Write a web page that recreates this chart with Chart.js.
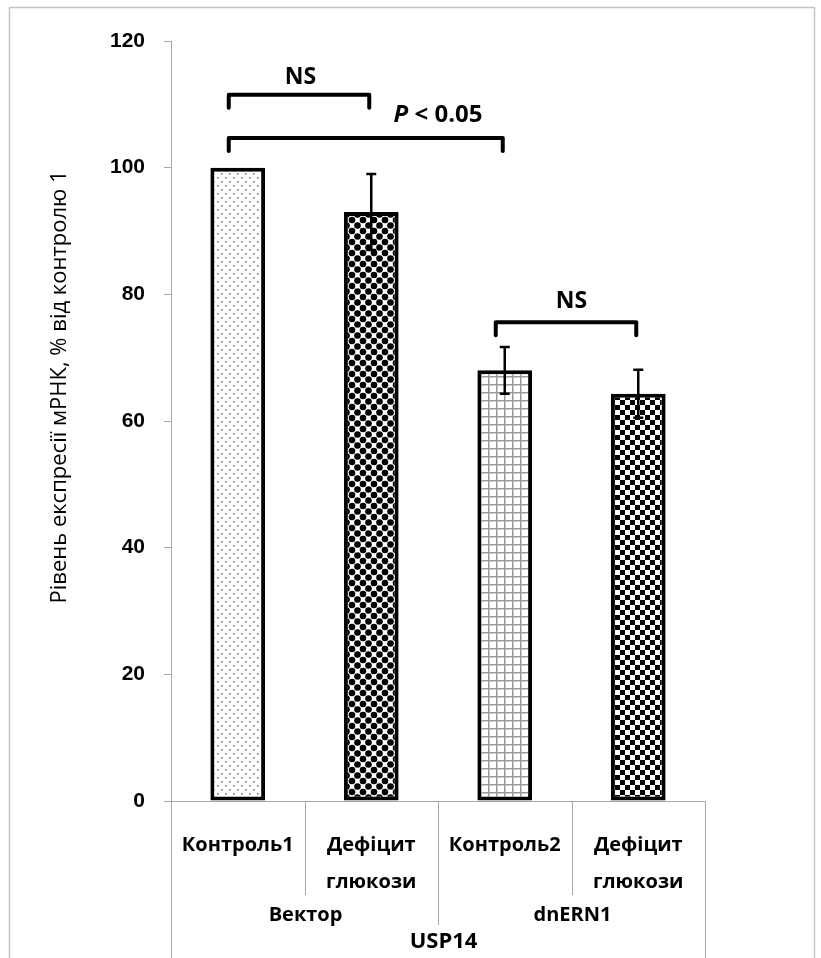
<!DOCTYPE html>
<html>
<head>
<meta charset="utf-8">
<script src="https://cdn.jsdelivr.net/npm/chart.js@4.4.1/dist/chart.umd.min.js"></script>
<style>
  html, body { margin: 0; padding: 0; background: #fff; }
  #wrap { width: 821px; height: 958px; position: relative; }
</style>
</head>
<body>
<div id="wrap"><canvas id="c" width="821" height="958"></canvas></div>
<script>
// ---- data ----
const categories = [['Контроль1'], ['Дефіцит', 'глюкози'], ['Контроль2'], ['Дефіцит', 'глюкози']];
const groups = ['Вектор', 'dnERN1'];
const geneLabel = 'USP14';
const expression = [100, 93, 68, 64.3];
const errorBars = [0, 6, 3.7, 3.8];
const yTicks = [0, 20, 40, 60, 80, 100, 120];
const yTitle = 'Рівень експресії мРНК, % від контролю 1';
// significance brackets: bars joined, bracket level (axis units), label, label position
const bracketFrom = [0, 0, 2];
const bracketTo = [1, 2, 3];
const bracketLevel = [111.5, 104.7, 75.6];
const bracketText = ['NS', 'P < 0.05', 'NS'];
const bracketTextAt = [0.47, 1.5, 2.5];
const bracketTextLevel = [114.3, 108.3, 78.8];

// ---- fill patterns ----
function makePattern(size, paint) {
  const c = document.createElement('canvas');
  c.width = size; c.height = size;
  const g = c.getContext('2d');
  g.fillStyle = '#fff';
  g.fillRect(0, 0, size, size);
  paint(g, size);
  return document.getElementById('c').getContext('2d').createPattern(c, 'repeat');
}
const sparseDots = makePattern(8, (g) => {
  g.fillStyle = '#7a7a7a';
  g.fillRect(1, 1, 1.6, 1.6);
  g.fillRect(5, 5, 1.6, 1.6);
});
const bigDots = makePattern(11, (g, s) => {
  g.fillStyle = '#000';
  [[0, 0], [s, 0], [0, s], [s, s], [s / 2, s / 2]].forEach(([x, y]) => {
    g.beginPath(); g.arc(x, y, 3.3, 0, Math.PI * 2); g.fill();
  });
});
const smallGrid = makePattern(8, (g) => {
  g.fillStyle = '#9a9a9a';
  g.fillRect(0, 0, 8, 1.5);
  g.fillRect(0, 0, 1.5, 8);
});
const checker = makePattern(10, (g) => {
  g.fillStyle = '#000';
  g.fillRect(0, 0, 5, 5);
  g.fillRect(5, 5, 5, 5);
});
const barFills = [sparseDots, bigDots, smallGrid, checker];

const FONT = '"Open Sans", "DejaVu Sans", sans-serif';

// frame, y title, error bars, brackets and the category table
const decorations = {
  id: 'decorations',
  beforeDraw(chart) {
    const ctx = chart.ctx;
    ctx.save();
    ctx.strokeStyle = '#c4c4c4';
    ctx.lineWidth = 1.5;
    ctx.strokeRect(9.5, 7.5, 805, 960);
    // rotated y-axis title
    ctx.translate(60, 387);
    ctx.rotate(-Math.PI / 2);
    ctx.fillStyle = '#000';
    ctx.font = '22px ' + FONT;
    ctx.textAlign = 'center';
    ctx.textBaseline = 'middle';
    ctx.fillText(yTitle, 0, 0);
    ctx.restore();
  },
  afterDatasetsDraw(chart) {
    const ctx = chart.ctx;
    const x = chart.scales.x, y = chart.scales.y;
    const meta = chart.getDatasetMeta(0);
    ctx.save();
    ctx.strokeStyle = '#000';
    ctx.lineWidth = 2.5;
    meta.data.forEach((bar, i) => {
      const e = errorBars[i];
      if (!e) return;
      const cx = bar.x;
      const top = y.getPixelForValue(expression[i] + e);
      const bot = y.getPixelForValue(expression[i] - e);
      ctx.beginPath();
      ctx.moveTo(cx, top); ctx.lineTo(cx, bot);
      ctx.moveTo(cx - 5, top); ctx.lineTo(cx + 5, top);
      ctx.moveTo(cx - 5, bot); ctx.lineTo(cx + 5, bot);
      ctx.stroke();
    });

    // brackets
    ctx.lineWidth = 4;
    ctx.lineJoin = 'round';
    ctx.lineCap = 'round';
    bracketFrom.forEach((f, k) => {
      const x1 = meta.data[f].x - 9;
      const x2 = meta.data[bracketTo[k]].x - 2;
      const yl = y.getPixelForValue(bracketLevel[k]);
      ctx.beginPath();
      ctx.moveTo(x1, yl + 13);
      ctx.lineTo(x1, yl);
      ctx.lineTo(x2, yl);
      ctx.lineTo(x2, yl + 13);
      ctx.stroke();
      const step = (x.right - x.left) / categories.length;
      const tx = x.left + step * (bracketTextAt[k] + 0.5);
      const ty = y.getPixelForValue(bracketTextLevel[k]);
      ctx.fillStyle = '#000';
      ctx.textBaseline = 'middle';
      ctx.textAlign = 'center';
      const t = bracketText[k];
      if (t.startsWith('P')) {
        const rest = t.slice(1);
        ctx.font = 'italic bold 24px ' + FONT;
        const wp = ctx.measureText('P').width;
        ctx.font = 'bold 24px ' + FONT;
        const wr = ctx.measureText(rest).width;
        const sx = tx - (wp + wr) / 2;
        ctx.textAlign = 'left';
        ctx.font = 'italic bold 24px ' + FONT;
        ctx.fillText('P', sx, ty);
        ctx.font = 'bold 24px ' + FONT;
        ctx.fillText(rest, sx + wp, ty);
      } else {
        ctx.font = 'bold 23px ' + FONT;
        ctx.fillText(t, tx, ty);
      }
    });
    ctx.restore();
  },
  afterDraw(chart) {
    const ctx = chart.ctx;
    const x = chart.scales.x;
    const base = chart.chartArea.bottom;
    const n = categories.length;
    const step = (x.right - x.left) / n;
    const edge = (i) => Math.round(x.left + step * i) + 0.5;
    ctx.save();
    ctx.strokeStyle = '#a8a8a8';
    ctx.lineWidth = 1;
    ctx.beginPath();
    ctx.moveTo(edge(0), base); ctx.lineTo(edge(0), 958);
    ctx.moveTo(edge(n), base); ctx.lineTo(edge(n), 958);
    ctx.moveTo(edge(1), base); ctx.lineTo(edge(1), base + 94);
    ctx.moveTo(edge(3), base); ctx.lineTo(edge(3), base + 94);
    ctx.moveTo(edge(2), base); ctx.lineTo(edge(2), base + 124);
    ctx.stroke();

    ctx.fillStyle = '#000';
    ctx.textAlign = 'center';
    ctx.textBaseline = 'middle';
    ctx.font = 'bold 20px ' + FONT;
    categories.forEach((lines, i) => {
      const cx = x.left + step * (i + 0.5);
      lines.forEach((ln, j) => ctx.fillText(ln, cx, base + 44 + j * 37));
    });
    groups.forEach((g, i) => {
      ctx.fillText(g, edge(1 + 2 * i), base + 114);
    });
    ctx.font = 'bold 22px ' + FONT;
    ctx.fillText(geneLabel, edge(2) + 5, base + 141);
    ctx.restore();
  }
};

new Chart(document.getElementById('c'), {
  type: 'bar',
  data: {
    labels: categories,
    datasets: [{
      data: expression,
      backgroundColor: barFills,
      borderColor: '#000',
      borderWidth: 4,
      borderSkipped: false,
      categoryPercentage: 1,
      barPercentage: 0.41
    }]
  },
  options: {
    responsive: false,
    animation: false,
    events: [],
    layout: { padding: { top: 41, right: 116, left: 0, bottom: 0 } },
    plugins: { legend: { display: false }, tooltip: { enabled: false } },
    scales: {
      x: {
        ticks: { display: false },
        grid: { display: false },
        border: { display: true, color: '#a8a8a8', width: 1 },
        afterFit(scale) { scale.height = 157; }
      },
      y: {
        min: 0,
        max: 120,
        afterBuildTicks(scale) { scale.ticks = yTicks.map(v => ({ value: v })); },
        ticks: {
          color: '#000',
          padding: 19,
          font: { family: '"Liberation Sans", Arial, sans-serif', weight: 'bold', size: 21 }
        },
        grid: { drawOnChartArea: false, drawTicks: true, tickLength: 7, color: '#a8a8a8' },
        border: { display: true, color: '#a8a8a8', width: 1 },
        title: { display: false },
        afterFit(scale) { scale.width = 171; }
      }
    }
  },
  plugins: [decorations]
});
</script>
</body>
</html>
